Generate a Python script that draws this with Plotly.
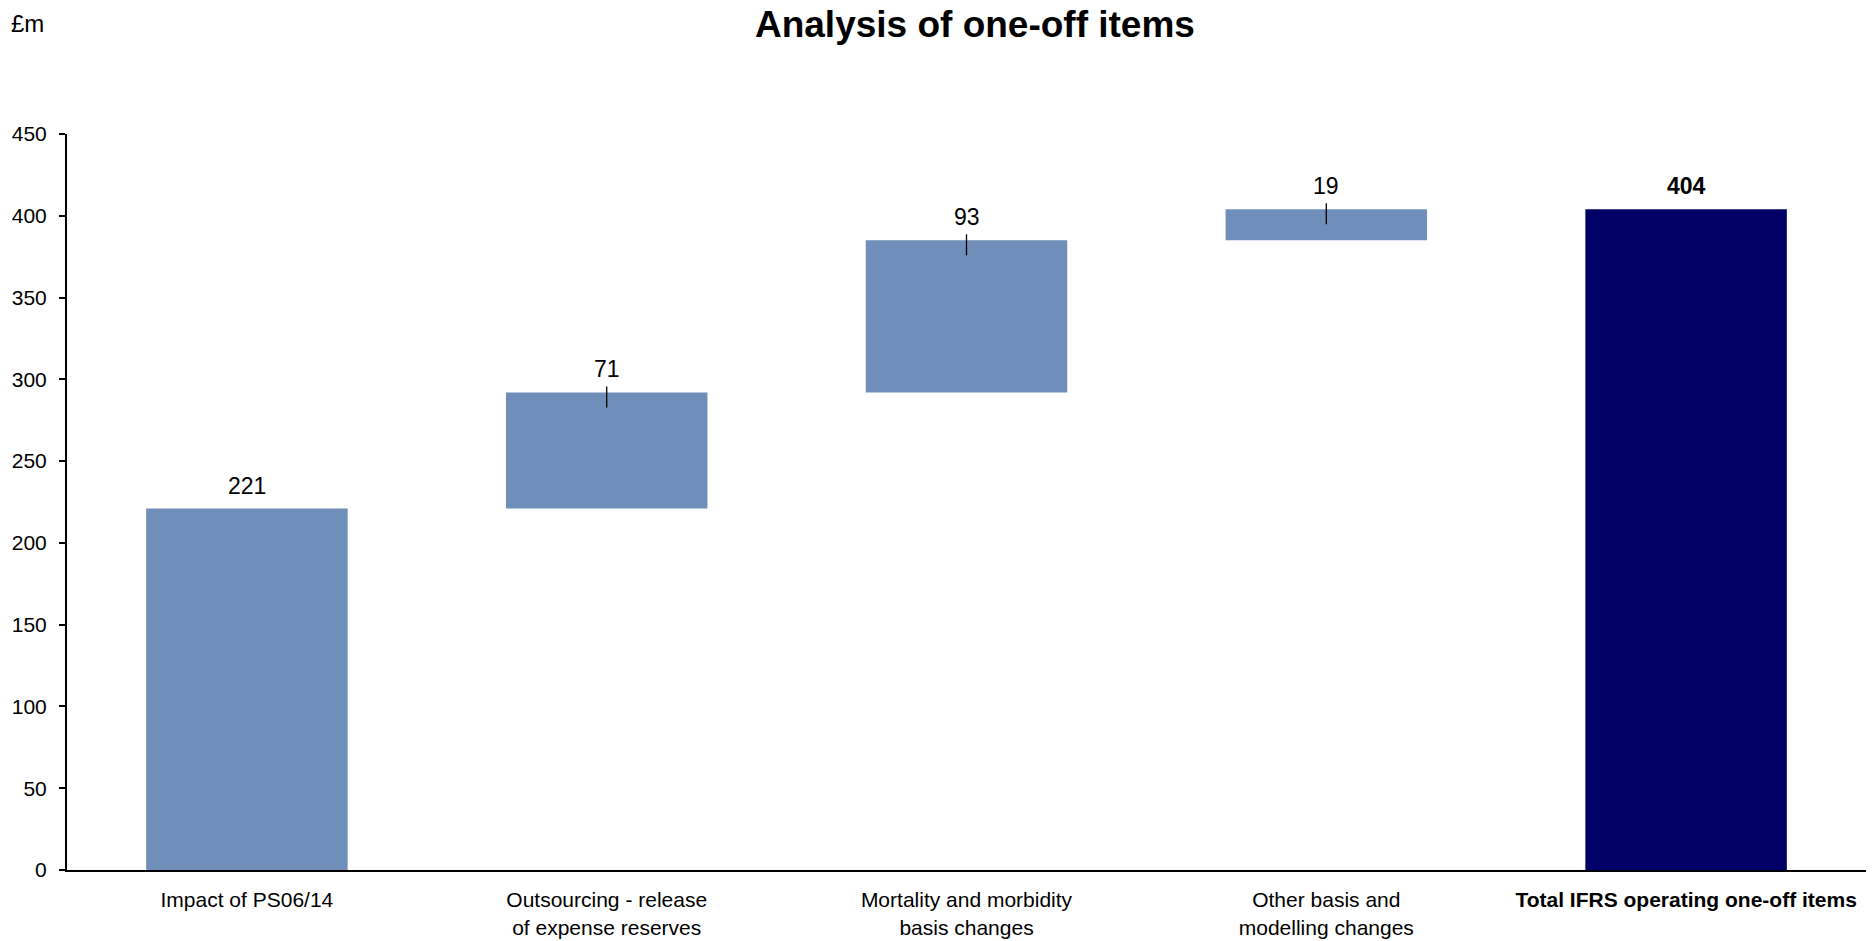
import plotly.graph_objects as go

# Waterfall of one-off items (£m)
categories = [
    "Impact of PS06/14",
    "Outsourcing - release<br>of expense reserves",
    "Mortality and morbidity<br>basis changes",
    "Other basis and<br>modelling changes",
    "<b>Total IFRS operating one-off items</b>",
]
values = [221, 71, 93, 19, 404]
measures = ["relative", "relative", "relative", "relative", "total"]
y_ticks = [0, 50, 100, 150, 200, 250, 300, 350, 400, 450]

FONT = "Arial, Liberation Sans, Helvetica, sans-serif"
STEP_COLOR = "#6F8FBA"
TOTAL_COLOR = "#000066"

x_idx = list(range(len(categories)))

fig = go.Figure(
    go.Waterfall(
        x=x_idx,
        y=values,
        measure=measures,
        base=0,
        connector=dict(visible=False),
        increasing=dict(marker=dict(color=STEP_COLOR)),
        totals=dict(marker=dict(color=TOTAL_COLOR)),
        textinfo="none",
        hoverinfo="skip",
        showlegend=False,
    )
)

# Running tops of each bar, used for value labels and leader ticks
tops = []
running = 0
for v, m in zip(values, measures):
    if m == "total":
        tops.append(running)
    else:
        running += v
        tops.append(running)

annotations = []
shapes = []
for i, (v, top, m) in enumerate(zip(values, tops, measures)):
    label = f"<b>{v}</b>" if m == "total" else str(v)
    annotations.append(dict(
        x=i, y=top, xref="x", yref="y", text=label, showarrow=False,
        yanchor="middle", yshift=23, font=dict(family=FONT, size=23, color="black"),
    ))
    # small leader tick from the label into the floating steps
    if m == "relative" and i > 0:
        shapes.append(dict(
            type="line", xref="x", yref="y", ysizemode="pixel", yanchor=top,
            x0=i, x1=i, y0=-15, y1=6, line=dict(color="black", width=1.3),
        ))

annotations.append(dict(
    x=-0.0325, y=1.1495, xref="paper", yref="paper", text="£m", showarrow=False,
    xanchor="left", yanchor="middle", font=dict(family=FONT, size=24, color="black"),
))

fig.update_layout(
    width=1876,
    height=941,
    margin=dict(l=67, r=10, t=134, b=71),
    paper_bgcolor="white",
    plot_bgcolor="white",
    waterfallgap=0.44,
    title=dict(
        text="<b>Analysis of one-off items</b>",
        x=0.5197, xref="container", xanchor="center",
        y=1 - 24 / 941, yref="container", yanchor="middle",
        font=dict(family=FONT, size=37, color="black"),
    ),
    annotations=annotations,
    shapes=shapes,
    xaxis=dict(
        range=[-0.5, 4.5],
        tickmode="array",
        tickvals=x_idx,
        ticktext=categories,
        showline=True, linecolor="black", linewidth=2,
        ticks="", showgrid=False, zeroline=False,
        ticklabelstandoff=10,
        automargin=False,
        tickfont=dict(family=FONT, size=21, color="black"),
        fixedrange=True,
    ),
    yaxis=dict(
        range=[0, 450],
        tickmode="array",
        tickvals=y_ticks,
        showline=True, linecolor="black", linewidth=2,
        ticks="outside", ticklen=6, tickwidth=1.5, tickcolor="black",
        ticklabelstandoff=8,
        automargin=False,
        showgrid=False, zeroline=False,
        tickfont=dict(family=FONT, size=21, color="black"),
        fixedrange=True,
    ),
)

fig.write_html("out.html")
